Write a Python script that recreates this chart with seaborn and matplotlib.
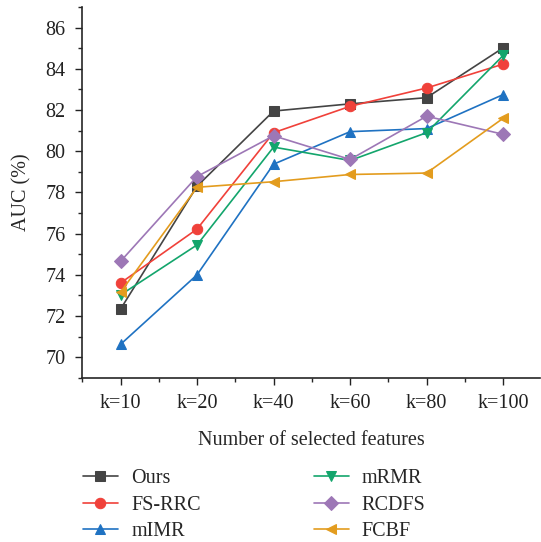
import numpy as np
import pandas as pd
import seaborn as sns
import matplotlib.pyplot as plt
from matplotlib.ticker import MultipleLocator, FixedLocator

k_labels = ["k=10", "k=20", "k=40", "k=60", "k=80", "k=100"]
methods = ["Ours", "FS-RRC", "mIMR", "mRMR", "RCDFS", "FCBF"]

ours = [72.33, 78.3, 81.95, 82.3, 82.6, 85.02]
fs_rrc = [73.6, 76.22, 80.9, 82.18, 83.07, 84.23]
mimr = [70.62, 74.0, 79.37, 80.95, 81.1, 82.75]
mrmr = [73.02, 75.45, 80.2, 79.55, 80.9, 84.65]
rcdfs = [74.65, 78.77, 80.75, 79.6, 81.7, 80.82]
fcbf = [73.15, 78.25, 78.52, 78.87, 78.94, 81.6]

colors = ["#444444", "#f0413a", "#1f72c2", "#13a56c", "#9d77b6", "#e39c1e"]
marks = ["s", "o", "^", "v", "D", "<"]

vals = [ours, fs_rrc, mimr, mrmr, rcdfs, fcbf]
df = pd.DataFrame({
    "k": k_labels * len(methods),
    "auc": np.concatenate(vals),
    "method": np.repeat(methods, len(k_labels)),
})

sns.set_style("ticks")
plt.rcParams['font.family'] = ['Liberation Serif', 'DejaVu Serif']
plt.rcParams['font.size'] = 14

fig = plt.figure(figsize=(5.41, 5.42), dpi=100)
ax = fig.add_axes([0.152, 0.303, 0.846, 0.684])

sns.lineplot(data=df, x="k", y="auc", hue="method", style="method",
             palette=dict(zip(methods, colors)),
             markers=dict(zip(methods, marks)), dashes=False,
             linewidth=1.2, markersize=7.5, ax=ax)
# filled markers, no white rim
for ln in ax.lines:
    ln.set_markeredgecolor(ln.get_color())

ax.set_xlim(-0.5, 5.48)
ax.set_ylim(69, 87)
ax.yaxis.set_major_locator(MultipleLocator(2))
ax.yaxis.set_minor_locator(MultipleLocator(1))
ax.xaxis.set_minor_locator(FixedLocator(np.arange(-0.5, 5.6, 1)))
ax.tick_params(which="major", length=5, width=1, direction="out", labelsize=14.5,
               colors="#222222", pad=7)
ax.tick_params(which="minor", length=3, width=1, direction="out")
ax.set_xlabel("Number of selected features", fontsize=14.5, labelpad=13)
ax.set_ylabel("AUC (%)", fontsize=14.5, labelpad=10)
for s in ["top", "right"]:
    ax.spines[s].set_visible(False)
for s in ["left", "bottom"]:
    ax.spines[s].set_linewidth(1.2)

ax.get_legend().remove()
h, l = ax.get_legend_handles_labels()
for hh in h:
    hh.set_markeredgecolor(hh.get_color())
fig.legend(h, l, loc="upper left", bbox_to_anchor=(0.153, 0.134), ncol=2,
           frameon=False, fontsize=14.5, handlelength=1.75, handletextpad=0.65,
           columnspacing=5.6, labelspacing=0.36, borderpad=0, borderaxespad=0)

fig.savefig("out.png", dpi=100)
